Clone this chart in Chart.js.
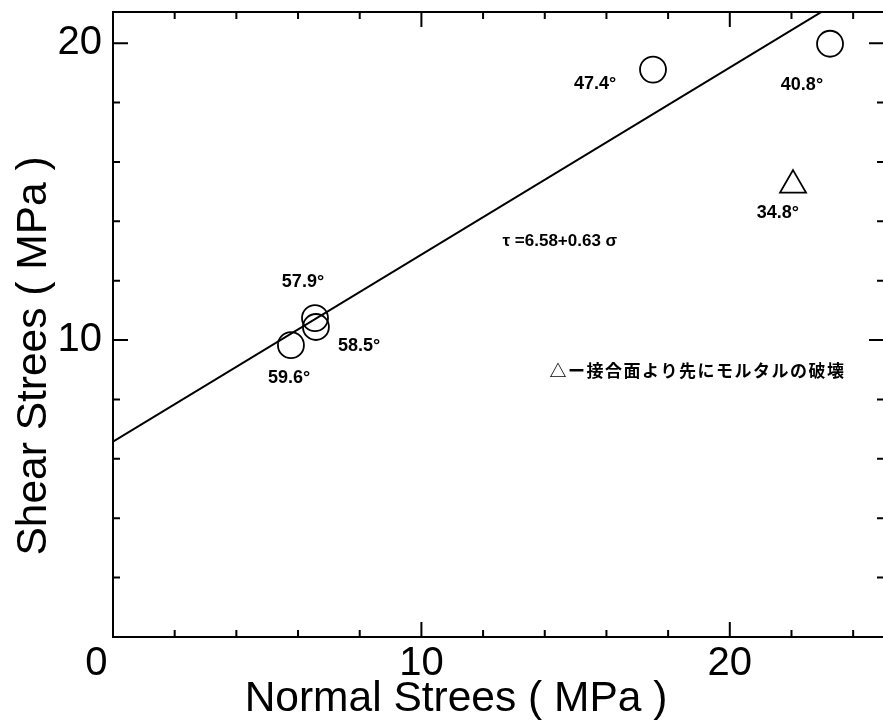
<!DOCTYPE html>
<html>
<head>
<meta charset="utf-8">
<script src="https://cdn.jsdelivr.net/npm/chart.js@4.4.0/dist/chart.umd.min.js"></script>
<style>
  html, body { margin: 0; padding: 0; background: #fff; overflow: hidden; }
  canvas { display: block; }
</style>
</head>
<body>
<canvas id="shearChart" width="886" height="728"></canvas>
<script>
// test results: normal stress (MPa) vs shear stress (MPa)
var circleX = [5.77, 6.58, 6.55, 17.51, 23.25];
var circleY = [9.83, 10.44, 10.74, 19.11, 19.98];
var triangleX = [22.05];
var triangleY = [15.22];

// fitted line  tau = 6.58 + 0.63 sigma
var lineX = [0, 25];
var lineY = [6.58, 22.33];

var xTicks = [0, 10, 20];
var yTicks = [10, 20];

// annotations, in data coordinates
var labelText = ['47.4°', '40.8°', '34.8°', '57.9°', '58.5°', '59.6°'];
var labelX = [15.63, 22.34, 21.56, 6.16, 7.98, 5.71];
var labelY = [18.63, 18.60, 14.28, 11.94, 9.81, 8.72];

var xTitle = 'Normal Strees ( MPa )';
var yTitle = 'Shear Strees ( MPa )';
var equation = 'τ =6.58+0.63 σ';
var note = '△ー接合面より先にモルタルの破壊';

function toPoints(xs, ys) {
    return xs.map(function (x, i) { return { x: x, y: ys[i] }; });
}

var framePlugin = {
    id: 'frame',
    afterDraw: function (chart) {
        var ctx = chart.ctx;
        var a = chart.chartArea;
        var sx = chart.scales.x, sy = chart.scales.y;
        ctx.save();
        ctx.strokeStyle = '#000';
        ctx.lineWidth = 2;
        ctx.strokeRect(a.left, a.top, a.right - a.left, a.bottom - a.top);

        ctx.beginPath();
        for (var v = 2; v < 25; v += 2) {
            var len = (v % 10 === 0) ? 15 : 7;
            var px = sx.getPixelForValue(v);
            ctx.moveTo(px, a.bottom); ctx.lineTo(px, a.bottom - len);
            ctx.moveTo(px, a.top); ctx.lineTo(px, a.top + len);
        }
        for (var w = 2; w < 21; w += 2) {
            var l2 = (w % 10 === 0) ? 15 : 7;
            var py = sy.getPixelForValue(w);
            ctx.moveTo(a.left, py); ctx.lineTo(a.left + l2, py);
            ctx.moveTo(a.right, py); ctx.lineTo(a.right - l2, py);
        }
        ctx.stroke();

        // point labels
        ctx.fillStyle = '#000';
        ctx.textAlign = 'center';
        ctx.textBaseline = 'middle';
        ctx.font = 'bold 18px "Liberation Sans", Arial, sans-serif';
        labelText.forEach(function (t, i) {
            ctx.fillText(t, sx.getPixelForValue(labelX[i]), sy.getPixelForValue(labelY[i]));
        });
        ctx.font = 'bold 17px "Liberation Sans", Arial, sans-serif';
        ctx.fillText(equation, sx.getPixelForValue(14.49), sy.getPixelForValue(13.34));
        ctx.font = 'bold 17px "Noto Sans CJK JP", sans-serif';
        ctx.letterSpacing = '1.5px';
        ctx.fillText(note, sx.getPixelForValue(18.95), sy.getPixelForValue(8.99));
        ctx.letterSpacing = '0px';

        // axis titles
        ctx.font = '42.5px "Liberation Sans", Arial, sans-serif';
        ctx.fillText(xTitle, 456, 699);
        ctx.translate(34, 356);
        ctx.rotate(-Math.PI / 2);
        ctx.fillText(yTitle, 0, 0);
        ctx.restore();
    }
};

var ctx = document.getElementById('shearChart').getContext('2d');

var myChart = new Chart(ctx, {
    type: 'scatter',
    data: {
        datasets: [
            {
                label: 'fit',
                data: toPoints(lineX, lineY),
                showLine: true,
                borderColor: '#000',
                borderWidth: 2,
                pointRadius: 0
            },
            {
                label: 'joint',
                data: toPoints(circleX, circleY),
                pointStyle: 'circle',
                pointRadius: 13,
                pointBorderWidth: 1.8,
                borderColor: '#000',
                backgroundColor: 'rgba(0,0,0,0)'
            },
            {
                label: 'mortar',
                data: toPoints(triangleX, triangleY),
                pointStyle: 'triangle',
                pointRadius: 15,
                pointBorderWidth: 1.8,
                borderColor: '#000',
                backgroundColor: 'rgba(0,0,0,0)'
            }
        ]
    },
    options: {
        responsive: false,
        animation: false,
        devicePixelRatio: 1,
        layout: { autoPadding: false, padding: { top: 12, right: 2, left: 0, bottom: 0 } },
        plugins: {
            legend: { display: false },
            tooltip: { enabled: false }
        },
        scales: {
            x: {
                type: 'linear',
                min: 0,
                max: 25,
                afterBuildTicks: function (s) { s.ticks = xTicks.map(function (v) { return { value: v }; }); },
                afterFit: function (s) { s.height = 91; s.paddingLeft = 0; s.paddingRight = 0; },
                grid: { display: false, drawTicks: false },
                border: { display: false },
                ticks: {
                    color: '#000',
                    padding: 3,
                    maxRotation: 0,
                    font: { family: '"Liberation Sans", Arial, sans-serif', size: 40 },
                    callback: function (v) { return v === 0 ? '0   ' : String(v); }
                }
            },
            y: {
                type: 'linear',
                min: 0,
                max: 21.05,
                afterBuildTicks: function (s) { s.ticks = yTicks.map(function (v) { return { value: v }; }); },
                afterFit: function (s) { s.width = 113; s.paddingTop = 0; s.paddingBottom = 0; },
                grid: { display: false, drawTicks: false },
                border: { display: false },
                ticks: {
                    color: '#000',
                    padding: 11,
                    font: { family: '"Liberation Sans", Arial, sans-serif', size: 40 }
                }
            }
        }
    },
    plugins: [framePlugin]
});
</script>
</body>
</html>
